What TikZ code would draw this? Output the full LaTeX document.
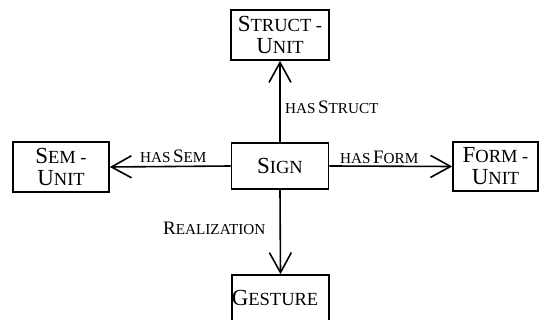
\documentclass[tikz,border=0pt]{standalone}
\usepackage{fontspec}
\setmainfont{Liberation Serif}
\usetikzlibrary{arrows.meta}
\newcommand\scword[2]{{\fontsize{23}{22}\selectfont #1}{\fontsize{18.5}{22}\selectfont #2}}
\newcommand\lbig[1]{{\fontsize{19}{20}\selectfont #1}}
\newcommand\lsmall[1]{{\fontsize{15.2}{20}\selectfont #1}}
\tikzset{
  box/.style={draw, line width=1.6pt, rectangle, inner sep=0pt, align=center, font=\fontsize{23}{22}\selectfont},
  rel/.style={line width=1.6pt, -{Straight Barb[length=20pt, width=22pt, line width=1.6pt]}},
  lab/.style={inner sep=0pt}
}
\begin{document}
\begin{tikzpicture}[x=1pt, y=-1pt]
\useasboundingbox (0,0) rectangle (539,320);
\clip (0,0) rectangle (539,320);
\node[box, minimum width=98pt, minimum height=50pt] (struct) at (280,35) {\scword{S}{TRUCT -}\\\scword{U}{NIT}};
\node[box, minimum width=97pt, minimum height=46pt] (sign) at (280,166) {\scword{S}{IGN}};
\node[box, minimum width=96pt, minimum height=50pt] (sem) at (61,167) {\scword{S}{EM -}\\\scword{U}{NIT}};
\node[box, minimum width=85pt, minimum height=49pt] (form) at (495.5,166.5) {\scword{F}{ORM -}\\\scword{U}{NIT}};
\node[box, minimum width=97pt, minimum height=60pt] (gesture) at (280.5,305) {};
\node[inner sep=0pt] (gtext) at (275,298) {\scword{G}{ESTURE}};
\draw[rel] (sign.north) -- (struct.south);
\draw[rel] (sign.west) -- (sem.east);
\draw[rel] (sign.east) -- (form.west);
\draw[rel] (sign.south) -- (gesture.north);
\node[lab, anchor=west] (lstruct) at (285,107) {\lsmall{HAS} \lbig{S}\lsmall{TRUCT}};
\node[lab, anchor=west] (lsem) at (140,156.5) {\lsmall{HAS} \lbig{S}\lsmall{EM}};
\node[lab, anchor=west] (lform) at (340,157) {\lsmall{HAS} \lbig{F}\lsmall{ORM}};
\node[lab, anchor=west] (lreal) at (163,228.5) {\lbig{R}\lsmall{EALIZATION}};
\end{tikzpicture}
\end{document}
